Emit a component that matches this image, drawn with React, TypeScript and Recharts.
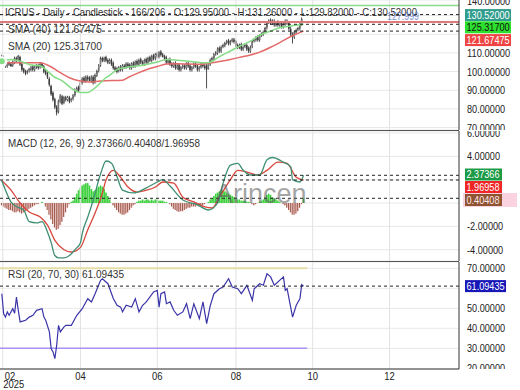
import React from "react";
import {
  Bar,
  CartesianGrid,
  ComposedChart,
  Line,
  ReferenceLine,
  XAxis,
  YAxis,
} from "recharts";

const FONT = "'Liberation Sans', Arial, sans-serif";

// trading-day index of the first candle (late January 2025)
const FIRST_DAY = -3;
const X_DOMAIN: [number, number] = [-4, 247];

const monthTicks = [-2.5, 40, 82, 125, 167, 209];
const monthLabels = ["02", "04", "06", "08", "10", "12"];

const priceTicks = [70, 80, 90, 100, 110, 120, 130];
const macdTicks = [-4, -2, 0, 2, 4, 6];
const rsiTicks = [30, 40, 50, 60, 70];

// OHLC, one value per trading day
const opens = [
  107, 107.5, 105.5, 103, 104.5, 104, 103.5, 105, 107, 106.5,
  107.5, 104, 101.5, 100, 99.5, 100.5, 101, 102.5, 101, 102.5,
  103, 102.5, 104, 102.5, 100, 99, 96, 92, 88.5, 85,
  81, 78.5, 84, 86.5, 83.5, 86, 85, 86, 84.5, 85.5,
  87.5, 90, 91.5, 90.5, 94, 96.5, 95, 97, 96.5, 95,
  97, 94.5, 98, 100.5, 103.5, 107, 106, 107.5, 106, 105,
  106, 104.5, 102, 101.5, 100.5, 102.5, 101, 103, 102.5, 104,
  103.5, 102, 104.5, 103, 105.5, 104, 106.5, 105, 104, 106.5,
  105, 107.5, 106, 108.5, 107, 109.5, 108, 110.5, 109, 108,
  107.5, 105, 106.5, 104, 103, 104.5, 102, 103.5, 101, 102.5,
  103, 102, 104.5, 103, 101, 102.5, 104, 103, 101, 102.5,
  104, 103, 103, 101.5, 104, 106.5, 107, 109.5, 110, 112.5,
  111, 113.5, 114, 115.5, 116.5, 115, 116.5, 117, 116, 114,
  113, 114.5, 112, 113.5, 114, 112.5, 111, 113.5, 116.5, 117,
  118.5, 117, 119.5, 120, 121.5, 123.5, 126.5, 127.5, 126, 127,
  125, 126.5, 125, 126, 124, 125.5, 127, 126, 122.5, 119.5,
  118.5, 121, 122.5, 123, 125.5, 129.95,
];
const highs = [
  109, 108.5, 107, 105, 105.5, 105, 106, 108, 108, 109,
  108.5, 104.5, 102, 101, 101, 102, 103, 103.5, 103, 104,
  104, 105, 105, 103.5, 101, 100, 97, 93, 89.5, 86,
  82, 85, 88, 87.5, 87, 87, 87, 87, 86, 88,
  91, 92, 92.5, 95, 97, 97.5, 98, 98, 97.5, 98,
  98, 99, 101, 104, 108, 108, 108, 108.5, 107, 107,
  107, 105.5, 103, 102.5, 103, 103.5, 104, 104, 105, 105,
  104.5, 105, 105.5, 106, 106.5, 107, 107.5, 106, 107, 107.5,
  108, 108.5, 109, 109.5, 110, 110.5, 111, 111.5, 110, 109,
  108.5, 107, 107.5, 105, 105, 105.5, 104, 104.5, 103, 104,
  104, 105, 105.5, 104, 103, 105, 105, 104, 103, 105,
  105, 104, 104, 105, 107, 108, 110, 111, 113, 113.5,
  114, 115, 116, 117, 117.5, 117, 118, 118, 117, 115,
  115, 115.5, 114, 115, 115, 113.5, 114, 117, 118, 119,
  119.5, 120, 121, 122, 124, 127, 128, 128.5, 128, 128,
  127, 127.5, 127, 127, 126, 128, 128, 127, 124, 121,
  122, 123, 124, 126, 129, 131.26,
];
const lows = [
  106, 105.5, 102, 102, 103, 102.5, 102.5, 104, 105, 105.5,
  103, 100, 99, 98, 98.5, 99.5, 100, 100, 100, 101.5,
  101, 101.5, 102, 99, 98, 96, 92, 87, 84, 80,
  76.5, 77.5, 83, 82, 82.5, 84, 84, 83, 83.5, 84.5,
  86.5, 89, 89, 89.5, 93, 94, 94, 95, 95, 94,
  93, 93.5, 97, 99.5, 102.5, 105, 105, 105, 104, 104,
  103, 101, 100, 99, 99.5, 100, 100, 101.5, 101.5, 102,
  101, 101, 102, 102, 103, 103, 104, 103, 103, 104,
  104, 105, 105, 106, 106, 107, 107, 108, 107.5, 106,
  104, 104, 103, 102, 102, 101, 101, 100, 100, 101.5,
  101, 101, 102, 100, 100, 101.5, 102, 100, 100, 101.5,
  102, 101, 91, 101, 103, 105.5, 106, 108.5, 109, 110,
  110, 112.5, 113, 114.5, 114, 114, 115.5, 115, 113, 112,
  112, 111, 111, 112.5, 111, 110, 110, 112.5, 115.5, 116,
  116, 116, 118.5, 119, 120.5, 122.5, 125.5, 125, 125, 124,
  124, 124, 124, 123, 123, 124.5, 125, 122, 119, 115,
  117.5, 120, 121.5, 122, 124.5, 129.82,
];
const closes = [
  108, 106, 103, 104, 104, 103, 105, 107, 106, 108,
  104, 101, 100, 99, 100, 101, 102, 101, 102, 103,
  102, 104, 103, 100, 99, 97, 93, 88, 85, 81,
  78, 84, 87, 83, 86, 85, 86, 84, 85, 87,
  90, 91, 90, 94, 96, 95, 97, 96, 95, 97,
  94, 98, 100, 103, 107, 106, 107, 106, 105, 106,
  104, 102, 101, 100, 102, 101, 103, 102, 104, 103,
  102, 104, 103, 105, 104, 106, 105, 104, 106, 105,
  107, 106, 108, 107, 109, 108, 110, 109, 108, 107,
  105, 106, 104, 103, 104, 102, 103, 101, 102, 103,
  102, 104, 103, 101, 102, 104, 103, 101, 102, 104,
  103, 102, 101, 104, 106, 107, 109, 110, 112, 111,
  113, 114, 115, 116, 115, 116, 117, 116, 114, 113,
  114, 112, 113, 114, 112, 111, 113, 116, 117, 118,
  117, 119, 120, 121, 123, 126, 127, 126, 127, 125,
  126, 125, 126, 124, 125, 127, 126, 123, 120, 119,
  121, 122, 123, 125, 128, 130.52,
];

const sma20Days = [
  -3, 2, 7, 12, 18, 22, 25, 30, 36, 40, 44, 47, 51, 53, 56, 60, 65, 71,
  76, 82, 87, 93, 98, 104, 108, 111, 116, 122, 127, 133, 138, 144, 149,
  155, 162,
];
const sma20 = [
  105.5, 106.5, 105.6, 103.8, 103, 100.3, 97.6, 95, 90.4, 88.8, 88.8, 90.5,
  94, 96, 98, 101, 102.2, 103, 103.8, 105.1, 106.5, 106.1, 105.6, 105, 104.7,
  105, 108, 111, 113.6, 116.3, 119.5, 121.7, 123.5, 124.4, 125.317,
];
const sma40Days = [
  -3, 7, 18, 23, 29, 34, 40, 45, 51, 63, 66, 71, 76, 82, 87, 93, 105, 111,
  116, 122, 127, 133, 138, 144, 149, 155, 162,
];
const sma40 = [
  104.7, 104.7, 104.7, 103, 99.4, 96.7, 94.9, 94.4, 95, 95.3, 96.8, 99, 101,
  102.7, 104, 104.2, 103.9, 104.6, 105.4, 106.5, 107.6, 108.9, 110.4, 113,
  115.5, 118.8, 121.675,
];

const macdDays = [
  -3, -1, 2, 5, 9, 12, 16, 19, 22, 24, 26, 28, 31, 34, 37, 40, 41, 44, 47,
  51, 54, 57, 60, 63, 69, 76, 82, 85, 89, 96, 104, 110, 115, 118, 122, 126,
  129, 133, 138, 142, 145, 151, 155, 156, 160, 162,
];
const macdLine = [
  1.9, 1.1, 0.1, -0.3, -0.6, -1.6, -1.7, -1.6, -2.5, -3.4, -4.5, -4.7, -4.7,
  -4.5, -4.0, -3.4, -2.6, -1.2, 0.26, 2.5, 3.6, 3.4, 2.25, 1.1, 0.86, 1.3,
  1.8, 2.0, 1.45, 0.26, -0.16, -0.6, 0.0, 1.7, 3.25, 3.4, 2.8, 2.4, 2.4, 3.7,
  3.9, 3.5, 3.1, 2.0, 1.8, 2.37366,
];
const signalDays = [
  -3, 2, 7, 12, 18, 22, 26, 31, 35, 40, 44, 48, 52, 54, 58, 62, 66, 71, 76,
  81, 85, 91, 96, 102, 108, 112, 116, 122, 126, 131, 137, 142, 148, 153, 158,
  162,
];
const signalLine = [
  1.9, 1.1, 0, -0.77, -1.2, -1.9, -3.2, -4.0, -4.2, -3.8, -2.3, -0.86, 0.86,
  2.0, 2.8, 2.2, 1.37, 0.94, 1.1, 1.37, 1.8, 1.7, 0.5, 0.1, -0.34, -0.43, 0.5,
  2.0, 2.8, 2.65, 2.4, 2.8, 3.5, 3.4, 2.2, 1.96958,
];
// one histogram bar per trading day
const histogram = [
  -0.2, -0.3, -0.4, -0.5, -0.6, -0.6, -0.7, -0.8, -0.8, -0.7,
  -0.8, -0.9, -0.8, -0.7, -0.6, -0.5, -0.4, -0.3, -0.2, -0.1,
  -0.1, 0.0, 0.1, 0.0, -0.3, -0.6, -1.0, -1.4, -1.8, -2.1,
  -2.3, -2.2, -1.9, -1.6, -1.2, -0.8, -0.4, -0.1, 0.1, 0.2,
  0.5, 0.8, 1.1, 1.3, 1.5, 1.6, 1.7, 1.7, 1.5, 1.2,
  1.0, 1.1, 1.3, 1.4, 1.5, 1.4, 1.2, 0.9, 0.6, 0.3,
  0.0, -0.2, -0.4, -0.6, -0.8, -0.9, -1.0, -1.0, -0.9, -0.8,
  -0.6, -0.4, -0.2, -0.1, 0.1, 0.2, 0.2, 0.3, 0.2, 0.3,
  0.3, 0.2, 0.3, 0.2, 0.3, 0.3, 0.2, 0.2, 0.2, 0.1,
  0.1, 0.0, -0.1, -0.3, -0.5, -0.6, -0.7, -0.75, -0.7, -0.7,
  -0.6, -0.5, -0.4, -0.4, -0.3, -0.3, -0.3, -0.2, -0.3, -0.2,
  -0.2, -0.1, 0.0, 0.1, 0.3, 0.4, 0.6, 0.8, 0.9, 1.0,
  1.1, 1.1, 1.0, 0.9, 0.8, 0.7, 0.6, 0.5, 0.4, 0.3,
  0.3, 0.2, 0.2, 0.2, 0.1, 0.1, 0.0, -0.1, -0.2, -0.1,
  0.0, 0.1, 0.2, 0.3, 0.5, 0.7, 0.8, 0.7, 0.5, 0.4,
  0.3, 0.2, 0.1, 0.0, -0.1, -0.2, -0.4, -0.6, -0.8, -1.0,
  -1.0, -0.9, -0.7, -0.4, -0.1, 0.40408,
];

const rsiDays = [
  -3, -2, -1, 0, 1, 3, 4, 5, 6, 7, 10, 12, 14, 16, 19, 20, 21, 23, 24, 25,
  26, 27, 28, 29, 31, 32, 35, 38, 41, 42, 44, 46, 48, 51, 52, 55, 58, 60, 62,
  63, 65, 68, 70, 72, 74, 76, 80, 82, 83, 84, 86, 87, 89, 91, 93, 96, 98, 100,
  102, 105, 107, 109, 111, 113, 116, 118, 121, 123, 126, 128, 131, 134, 135,
  138, 140, 142, 144, 146, 151, 152, 153, 156, 158, 160, 161, 162,
];
const rsiValues = [
  57.3, 47.3, 45.6, 48.2, 46.5, 49.8, 47.5, 55.6, 49, 43.2, 44, 45.6, 46.5,
  49, 49.8, 45.6, 44, 38.2, 29.8, 28.2, 24.8, 31.5, 41.5, 38.2, 40.7, 41.5,
  41.5, 46.5, 49.8, 51.5, 54.8, 53.2, 57.3, 64, 64.8, 62.3, 54.8, 51.5, 50.6,
  48.2, 51.5, 50.6, 54.8, 48.2, 51.5, 53.2, 58.2, 59, 50.6, 57.3, 58.2, 52.3,
  53.2, 49, 46.5, 48.2, 52.3, 44.8, 52.3, 44.8, 53.2, 42.3, 51.5, 57.3, 59.8,
  60.6, 64.8, 60.6, 59.8, 57.3, 61.5, 54, 59.8, 62.3, 61.5, 67.3, 65.7, 61.5,
  65.7, 59, 59.8, 45.6, 51.5, 54.8, 61.8, 61.09435,
];

const lastClose = 130.52;
const lastSma20 = 125.317;
const lastSma40 = 121.67475;
const lastMacd = 2.37366;
const lastHist = 0.40408;
const lastSignal = 1.96958;
const lastRsi = 61.09435;
const rangeHigh = 135.4;
const rangeMid = 126.6;

const pick = (ds: number[], vs: number[], d: number) => {
  const k = ds.indexOf(d);
  return k < 0 ? undefined : vs[k];
};

const priceRows = closes.map((c, i) => {
  const day = FIRST_DAY + i;
  return {
    day,
    open: opens[i],
    high: highs[i],
    low: lows[i],
    close: c,
    range: [lows[i], highs[i]],
    sma20: pick(sma20Days, sma20, day),
    sma40: pick(sma40Days, sma40, day),
  };
});

const macdRows = histogram.map((h, i) => {
  const day = FIRST_DAY + i;
  return {
    day,
    hist: h,
    macd: pick(macdDays, macdLine, day),
    signal: pick(signalDays, signalLine, day),
  };
});

const rsiRows = rsiDays.map((d, i) => ({ day: d, rsi: rsiValues[i] }));

const fmt = (v: number) => v.toFixed(5);

// the reference uses a narrow face; squeeze the installed one to the same width
const numWidth = (s: string) => {
  let w = 0;
  for (const ch of s) w += ch === "." ? 2.4 : ch === "-" ? 3.2 : 5.1;
  return w;
};

function NarrowText(props: any) {
  const { children, width, ...rest } = props;
  return (
    <text {...rest} textLength={width} lengthAdjust="spacingAndGlyphs">
      {children}
    </text>
  );
}

const yTick = (hidden: number[]) => (p: any) => {
  const v = p.payload.value;
  if (hidden.includes(v)) return <g />;
  const s = fmt(v);
  return (
    <NarrowText
      x={p.x}
      y={p.y}
      dy="0.36em"
      fontSize={11}
      fill="#222"
      fontFamily={FONT}
      textAnchor="start"
      width={numWidth(s)}
    >
      {s}
    </NarrowText>
  );
};

function Candle(props: any) {
  const { x, y, width, height, payload } = props;
  if (x == null || !payload) return null;
  const top = Math.min(y, y + height);
  const h = Math.abs(height);
  const { open, high, low, close } = payload;
  const ppu = h / Math.max(high - low, 0.01);
  const cx = x + width / 2;
  const bodyTop = top + (high - Math.max(open, close)) * ppu;
  const bodyH = Math.max(Math.abs(open - close) * ppu, 1);
  const up = close >= open;
  return (
    <g>
      <line x1={cx} x2={cx} y1={top} y2={top + h} stroke="#3a3a3a" strokeWidth={0.9} />
      <rect
        x={x + 0.4}
        y={bodyTop}
        width={width - 0.8}
        height={bodyH}
        fill={up ? "#fff" : "#3a3a3a"}
        stroke="#3a3a3a"
        strokeWidth={0.6}
      />
    </g>
  );
}

function HistBar(props: any) {
  const { x, y, width, height, payload } = props;
  if (x == null || !payload) return null;
  const top = Math.min(y, y + height);
  const h = Math.abs(height);
  if (payload.hist >= 0) {
    return <rect x={x} y={top} width={width} height={h} fill="#3fd13f" />;
  }
  return (
    <g>
      <rect x={x} y={top} width={width} height={h} fill="#f7c9d3" />
      <rect x={x} y={top} width={1} height={h} fill="#9b5a44" />
    </g>
  );
}

function Badge(props: any) {
  const { viewBox, text, bg, fg, dy = 0, w = 46, glow } = props;
  if (!viewBox) return null;
  const x = viewBox.x + viewBox.width + 6;
  const cy = viewBox.y + dy;
  return (
    <g>
      {glow && <rect x={x - 2} y={cy - 7} width={54} height={14} fill={glow} />}
      <rect x={x} y={cy - 6} width={w} height={12} fill={bg} />
      <NarrowText
        x={x + 1.5}
        y={cy}
        dy="0.36em"
        fontSize={11}
        fill={fg}
        fontFamily={FONT}
        width={numWidth(text)}
      >
        {text}
      </NarrowText>
    </g>
  );
}

function MonthTick(props: any) {
  const { x, y, payload, index } = props;
  const label = monthLabels[monthTicks.indexOf(payload.value)];
  const first = index === 0;
  return (
    <g fontFamily={FONT} fontSize={10} fill="#222">
      <NarrowText
        x={first ? x + 2 : x}
        y={y + 1.5}
        dy="0.1em"
        textAnchor={first ? "start" : "middle"}
        width={10.5}
      >
        {label}
      </NarrowText>
      {first && (
        <NarrowText x={x + 0.5} y={y + 10} dy="0.1em" textAnchor="start" width={21}>
          2025
        </NarrowText>
      )}
    </g>
  );
}

const monthLines = monthTicks.map((t) => (
  <ReferenceLine key={"m" + t} x={t} stroke="#e2e2e2" />
));

const margin = { top: 0, right: 0, bottom: 0, left: 0 };

function PricePanel() {
  return (
    <ComposedChart width={520} height={130} data={priceRows} margin={margin}>
      <CartesianGrid vertical={false} stroke="#e8e8e8" />
      {monthLines}
      <XAxis type="number" dataKey="day" domain={X_DOMAIN} allowDataOverflow hide />
      <YAxis
        orientation="right"
        width={61}
        domain={[68.7, 138.33]}
        ticks={priceTicks}
        interval={0}
        allowDataOverflow
        tick={yTick([120, 130])}
        tickLine={false}
        axisLine={{ stroke: "#333" }}
      />
      <ReferenceLine y={rangeHigh} stroke="#8ed88e" strokeWidth={1.5} />
      <ReferenceLine y={rangeMid} stroke="#e07a7a" strokeWidth={2} />
      <Bar dataKey="range" barSize={3} isAnimationActive={false} shape={(p: any) => <Candle {...p} />} />
      <Line type="monotone" dataKey="sma40" stroke="#e46a6a" strokeWidth={1.5} dot={false} connectNulls isAnimationActive={false} />
      <Line type="monotone" dataKey="sma20" stroke="#84dc84" strokeWidth={1.5} dot={false} connectNulls isAnimationActive={false} />
      <ReferenceLine y={lastClose} stroke="#222" strokeDasharray="3 3" label={<Badge text={fmt(lastClose)} bg="#2f9d8c" fg="#fff" dy={0.5} />} />
      <ReferenceLine y={lastSma20} stroke="#222" strokeDasharray="3 3" label={<Badge text={fmt(lastSma20)} bg="#2ee02e" fg="#111" dy={3} />} />
      <ReferenceLine y={lastSma40} stroke="#222" strokeDasharray="3 3" label={<Badge text={fmt(lastSma40)} bg="#ef4444" fg="#fff" dy={9} />} />
    </ComposedChart>
  );
}

function MacdPanel() {
  return (
    <ComposedChart width={520} height={130} data={macdRows} margin={margin}>
      <CartesianGrid vertical={false} stroke="#e8e8e8" />
      {monthLines}
      <XAxis type="number" dataKey="day" domain={X_DOMAIN} allowDataOverflow hide />
      <YAxis
        orientation="right"
        width={61}
        domain={[-4.97, 6.17]}
        ticks={macdTicks}
        interval={0}
        allowDataOverflow
        tick={yTick([0, 2])}
        tickLine={false}
        axisLine={{ stroke: "#333" }}
      />
      <Bar dataKey="hist" barSize={2} isAnimationActive={false} shape={(p: any) => <HistBar {...p} />} />
      <Line type="monotone" dataKey="signal" stroke="#d8463c" strokeWidth={1.3} dot={false} connectNulls isAnimationActive={false} />
      <Line type="monotone" dataKey="macd" stroke="#3f8f73" strokeWidth={1.3} dot={false} connectNulls isAnimationActive={false} />
      <ReferenceLine y={lastMacd} stroke="#222" strokeDasharray="3 3" label={<Badge text={lastMacd.toFixed(5)} bg="#1c9a45" fg="#fff" w={37} dy={-0.8} />} />
      <ReferenceLine y={lastSignal} stroke="#222" strokeDasharray="3 3" label={<Badge text={lastSignal.toFixed(5)} bg="#f02525" fg="#fff" w={37} dy={7} />} />
      <ReferenceLine y={lastHist} stroke="#222" strokeDasharray="3 3" label={<Badge text={lastHist.toFixed(5)} bg="#8e5431" fg="#ffe6ea" w={37} dy={1.7} glow="#fbd3e0" />} />
    </ComposedChart>
  );
}

function RsiPanel() {
  return (
    <ComposedChart width={520} height={128} data={rsiRows} margin={margin}>
      <CartesianGrid vertical={false} stroke="#e8e8e8" />
      {monthLines}
      <XAxis
        type="number"
        dataKey="day"
        domain={X_DOMAIN}
        allowDataOverflow
        ticks={monthTicks}
        interval={0}
        height={21}
        tickLine={false}
        axisLine={{ stroke: "#333" }}
        tick={(p: any) => <MonthTick {...p} />}
      />
      <YAxis
        orientation="right"
        width={61}
        domain={[19.65, 73.15]}
        ticks={rsiTicks}
        interval={0}
        allowDataOverflow
        tick={yTick([60])}
        tickLine={false}
        axisLine={{ stroke: "#333" }}
      />
      <ReferenceLine segment={[{ x: -4, y: 70 }, { x: 164, y: 70 }]} stroke="#e6dea6" strokeWidth={2} />
      <ReferenceLine segment={[{ x: -4, y: 30 }, { x: 164, y: 30 }]} stroke="#a893f3" strokeWidth={1.5} />
      <Line type="linear" dataKey="rsi" stroke="#3a34a8" strokeWidth={1.2} dot={false} isAnimationActive={false} />
      <ReferenceLine y={lastRsi} stroke="#222" strokeDasharray="3 3" label={<Badge text={fmt(lastRsi)} bg="#1717b8" fg="#fff" w={41} />} />
    </ComposedChart>
  );
}

export default function App() {
  return (
    <div
      style={{
        position: "absolute",
        left: 0,
        top: 0,
        width: 520,
        height: 390,
        background: "#fff",
        overflow: "hidden",
      }}
    >
      <div style={{ position: "absolute", left: 0, top: 0 }}>
        <PricePanel />
      </div>
      <div style={{ position: "absolute", left: 0, top: 131 }}>
        <MacdPanel />
      </div>
      <div style={{ position: "absolute", left: 0, top: 262 }}>
        <RsiPanel />
      </div>
      <svg
        width={520}
        height={390}
        style={{ position: "absolute", left: 0, top: 0, pointerEvents: "none" }}
        fontFamily={FONT}
      >
        <line x1={0} x2={459} y1={130.5} y2={130.5} stroke="#555" />
        <line x1={0} x2={459} y1={261.5} y2={261.5} stroke="#555" />
        <NarrowText x={467} y={1} dy="0.36em" fontSize={11} fill="#222" width={numWidth(fmt(140))}>
          {fmt(140)}
        </NarrowText>
        <clipPath id="rsiClip">
          <rect x={460} y={355} width={60} height={14} />
        </clipPath>
        <g clipPath="url(#rsiClip)">
          <NarrowText x={467} y={368} dy="0.36em" fontSize={11} fill="#222" width={numWidth(fmt(20))}>
            {fmt(20)}
          </NarrowText>
        </g>
        <g fontSize={11} fill="#333">
          <NarrowText x={5} y={12.5} dy="0.36em" width={412}>
            ICRUS - Daily - Candlestick - 166/206 - O:129.95000 - H:131.26000 - L:129.82000 - C:130.52000
          </NarrowText>
          <NarrowText x={8} y={29} dy="0.36em" width={94}>
            SMA (40)  121.67475
          </NarrowText>
          <NarrowText x={8} y={46.5} dy="0.36em" width={94}>
            SMA (20)  125.31700
          </NarrowText>
          <NarrowText x={8} y={143} dy="0.36em" width={192}>
            MACD (12, 26, 9)   2.37366/0.40408/1.96958
          </NarrowText>
          <NarrowText x={8} y={274} dy="0.36em" width={116}>
            RSI (20, 70, 30)   61.09435
          </NarrowText>
        </g>
        <NarrowText x={387} y={16} dy="0.36em" fontSize={10} fill="#5a78c8" opacity={0.8} width={32}>
          127.999
        </NarrowText>
        <text
          x={215}
          y={203}
          fontSize={27}
          fill="#5c5c5c"
          opacity={0.55}
          fontFamily="'Liberation Sans', Arial, sans-serif"
        >
          Arincen
        </text>
      </svg>
    </div>
  );
}
